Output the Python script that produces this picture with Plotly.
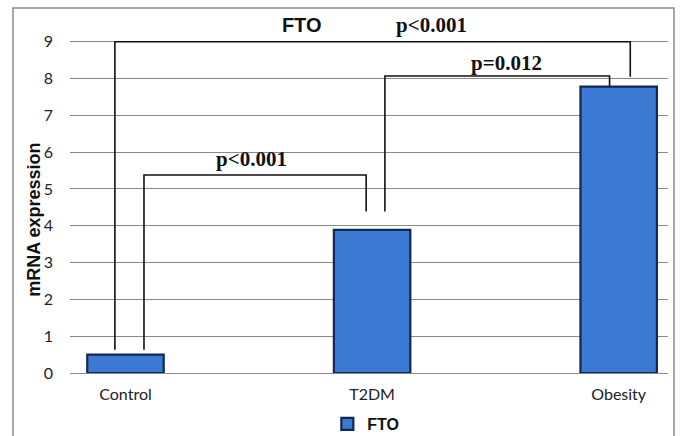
import plotly.graph_objects as go

categories = ["Control", "T2DM", "Obesity"]
values = [0.5, 3.89, 7.78]
series_name = "FTO"
y_ticks = [0, 1, 2, 3, 4, 5, 6, 7, 8, 9]

# significance brackets (category-index x, value y)
bracket_left = [0.075, -0.043, 1.052]
bracket_right = [0.976, 2.047, 1.963]
bracket_top = [5.38, 9.0, 8.07]
bracket_left_bottom = [0.63, 0.63, 4.39]
bracket_right_bottom = [4.39, 8.05, 7.78]
p_labels = ["p<0.001", "p<0.001", "p=0.012"]
p_label_x = [0.509, 1.242, 1.546]
p_label_y = [5.80, 9.45, 8.42]

Y_MAX = 9.318

fig = go.Figure()
fig.add_trace(go.Bar(
    x=categories, y=values, name="<b>" + series_name + "</b>",
    marker=dict(color="#3b79d3", line=dict(color="#13284f", width=2.2)),
    width=0.31, showlegend=True,
))

shapes = []
for x0, x1, yt, yb0, yb1 in zip(bracket_left, bracket_right, bracket_top,
                                bracket_left_bottom, bracket_right_bottom):
    shapes.append(dict(
        type="path", xref="x", yref="y",
        path=f"M {x0} {yb0} L {x0} {yt} L {x1} {yt} L {x1} {yb1}",
        line=dict(color="#111111", width=1.6),
    ))
# outer frame
shapes.append(dict(type="rect", xref="paper", yref="paper",
                   x0=-0.0953, x1=1.0100, y0=-0.2, y1=1.064,
                   line=dict(color="#8c8c8c", width=1.5), layer="above"))

annotations = []
for t, x, y in zip(p_labels, p_label_x, p_label_y):
    annotations.append(dict(
        text=f"<b>{t}</b>", x=x, y=y / Y_MAX, xref="x", yref="paper",
        showarrow=False,
        font=dict(family="Liberation Serif", size=21, color="#111111"),
        xanchor="center", yanchor="middle",
    ))
# y-axis title
annotations.append(dict(
    text="<b>mRNA expression</b>", x=-0.0602, y=0.4466, xref="paper", yref="paper",
    showarrow=False, textangle=-90, xanchor="center", yanchor="middle",
    font=dict(family="Liberation Sans", size=18, color="#111111"),
))

fig.update_layout(
    width=680, height=436,
    margin=dict(l=70, r=12, t=30, b=62.7),
    paper_bgcolor="white", plot_bgcolor="white",
    title=dict(text="<b>FTO</b>", x=0.3875, xref="paper", y=0.9427,
               xanchor="center", yanchor="middle",
               font=dict(family="Liberation Sans", size=20, color="#111111")),
    xaxis=dict(
        type="category", range=[-0.225, 2.2], automargin=False,
        showgrid=False, showline=False, ticks="",
        ticklabelstandoff=10,
        tickfont=dict(family="Lato", size=16, color="#222222"),
    ),
    yaxis=dict(
        range=[0, Y_MAX], tickvals=y_ticks, automargin=False,
        showgrid=True, gridcolor="#8a8a8a", gridwidth=1.4,
        zeroline=True, zerolinecolor="#8a8a8a", zerolinewidth=1.4,
        showline=False, ticks="", ticklabelstandoff=16,
        tickfont=dict(family="Lato", size=16, color="#222222"),
    ),
    legend=dict(
        orientation="h", xref="container", yref="container",
        x=0.538, xanchor="center", y=0.0275, yanchor="middle",
        font=dict(family="Liberation Sans", size=16, color="#111111"),
        bgcolor="rgba(0,0,0,0)",
    ),
    shapes=shapes,
    annotations=annotations,
    bargap=0.69,
)

fig.write_html("out.html", config={"displayModeBar": False},
               post_script="document.body.style.margin='0';")
